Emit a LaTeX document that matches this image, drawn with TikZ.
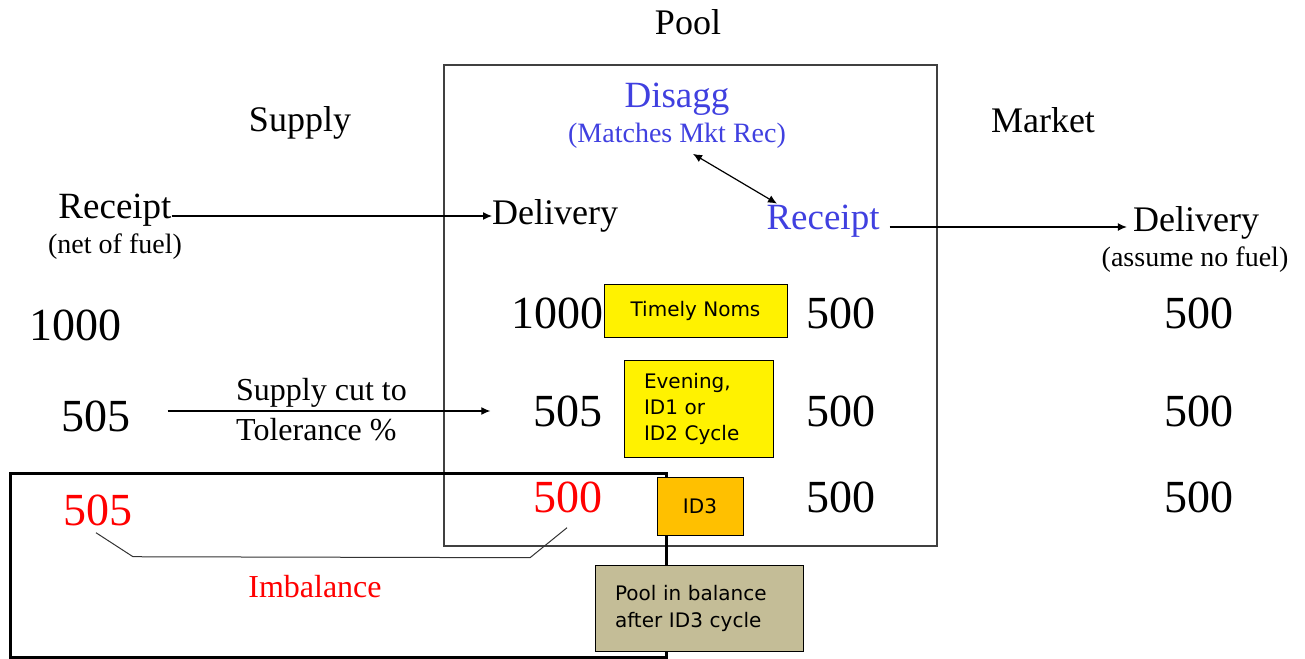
\documentclass[tikz,border=0pt]{standalone}
\usepackage{fontspec}
\setmainfont{Liberation Serif}
\newfontfamily\boxfont{DejaVu Sans}
\usetikzlibrary{arrows.meta,positioning,calc}

\definecolor{disblue}{RGB}{64,64,224}
\definecolor{idorange}{RGB}{255,192,0}
\definecolor{pooltan}{RGB}{196,189,151}
\newcommand{\pxsize}[2]{\fontsize{#1}{#2}\selectfont}

\begin{document}
\begin{tikzpicture}[x=1pt,y=-1pt,
  lbl/.style={inner sep=0pt, font=\pxsize{36}{40}},
  sub/.style={inner sep=0pt, font=\pxsize{28}{32}},
  num/.style={inner sep=0pt, font=\pxsize{46}{50}},
  note/.style={draw=black, line width=0.9pt, inner sep=0pt, font=\boxfont\pxsize{20}{26}},
  flow/.style={line width=1.2pt, -{Latex[length=9pt,width=8pt]}}]
  \useasboundingbox (0,0) rectangle (1305,658);
  % Pool box and imbalance frame
  \draw[line width=1.3pt, black!75] (444,65) rectangle (937,546);
  \draw[line width=3pt] (10,473) rectangle (666,657);
  % Headings
  \node[lbl] (pool) at (688,22) {Pool};
  \node[lbl] (supply) at (300,123) {Supply};
  \node[lbl] (market) at (1043,120) {Market};
  \node[lbl, disblue, font=\pxsize{37}{40}] (disagg) at (677,99) {Disagg};
  \node[sub, disblue] (dissub) at (677,136) {(Matches Mkt Rec)};
  \node[lbl, font=\pxsize{37}{40}] (srcpt) at (115,210) {Receipt};
  \node[sub] (snet) at (115,247) {(net of fuel)};
  \node[lbl, anchor=west] (pdlv) at (492,216) {Delivery};
  \node[lbl, disblue, font=\pxsize{37}{40}] (prcpt) at (823,221) {Receipt};
  \node[lbl] (mdlv) at (1196,223) {Delivery};
  \node[sub] (msub) at (1195,260) {(assume no fuel)};
  % Volumes
  \node[num] (s1000) at (75,325) {1000};
  \node[num] (p1000) at (557,313) {1000};
  \node[num] (p500a) at (841,313) {500};
  \node[num] (m500a) at (1199,313) {500};
  \node[num] (s505) at (96,416) {505};
  \node[num] (p505) at (568,411) {505};
  \node[num] (p500b) at (841,411) {500};
  \node[num] (m500b) at (1199,411) {500};
  \node[num, red] (r505) at (98,510) {505};
  \node[num, red] (r500) at (568,497) {500};
  \node[num] (p500c) at (841,497) {500};
  \node[num] (m500c) at (1199,497) {500};
  \node[inner sep=0pt, anchor=west, align=left, font=\pxsize{32}{40}] (cut) at (236,410)
    {Supply cut to\\Tolerance \%};
  \node[inner sep=0pt, red, font=\pxsize{32}{36}] (imb) at (315,587) {Imbalance};
  % Flows
  \draw[flow] (srcpt.east |- pdlv.west) -- (pdlv.west);
  \draw[flow, shorten <=37pt, shorten >=43pt] (s505.east |- p505.west) -- (p505.west);
  \draw[flow] ([shift={(10,6)}]prcpt.east) -- ([shift={(-6,6)}]prcpt.east -| mdlv.west);
  \draw[line width=1.2pt, {Latex[length=9pt,width=8pt]}-{Latex[length=9pt,width=8pt]}]
    ($(dissub.south)+(16,5)$) -- ($(prcpt.north)+(-46,-1)$);
  \draw[line width=1pt, black!80] ($(r505.south)+(-2,7)$) -- ++(37,24)
    -- ($(r500.south)+(-38,45)$) -- ($(r500.south)+(-1,15)$);
  % Cycle notes
  \node[note, fill=yellow, minimum width=183pt, minimum height=53pt] (timely)
    at (695.5,310.5) {Timely Noms};
  \node[note, fill=yellow, text width=109pt, inner xsep=20pt, minimum height=97pt,
    align=left] (eve) at (698.5,408.5) {Evening,\\ID1 or\\ID2 Cycle};
  \node[note, fill=idorange, minimum width=86pt, minimum height=58pt] (id3)
    at (700,506) {ID3};
  \node[note, fill=pooltan, text width=168pt, inner xsep=20pt, minimum height=86pt,
    align=left, font=\boxfont\pxsize{20}{27}] (bal) at (699,608)
    {Pool in balance\\after ID3 cycle};
\end{tikzpicture}
\end{document}
